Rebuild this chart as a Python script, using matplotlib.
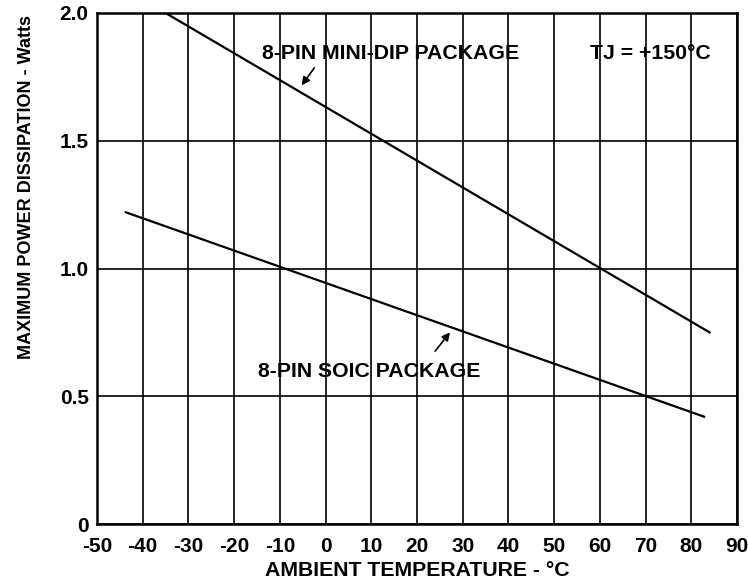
import numpy as np
import matplotlib
matplotlib.use("Agg")
import matplotlib.pyplot as plt

plt.rcParams['font.family'] = ['Liberation Sans', 'DejaVu Sans']
plt.rcParams['font.weight'] = 'bold'

# 8-pin mini-dip package derating line (endpoints)
dip_t = [-35, 84]
dip_p = [2.0, 0.75]
# 8-pin soic package derating line
soic_t = [-43.7, 82.8]
soic_p = [1.22, 0.42]

xticks = list(range(-50, 91, 10))
yticks = [0, 0.5, 1.0, 1.5, 2.0]
ylabels = ["0", "0.5", "1.0", "1.5", "2.0"]

fig = plt.figure(figsize=(7.48, 5.84), dpi=100)
ax = fig.add_axes([97/748, 1 - 524/584, 640/748, 511/584])

ax.set_xlim(-50, 90)
ax.set_ylim(0, 2.0)
ax.set_xticks(xticks)
ax.set_xticklabels([str(t) for t in xticks])
ax.set_yticks(yticks)
ax.set_yticklabels(ylabels)
ax.tick_params(length=0, labelsize=15)
ax.tick_params(axis='x', pad=9)
ax.tick_params(axis='y', pad=6)
for s in ax.spines.values():
    s.set_linewidth(1.8)

ax.grid(True, color='black', linewidth=1.2)
ax.set_axisbelow(True)

ax.plot(dip_t, dip_p, color='black', linewidth=1.6)
ax.plot(soic_t, soic_p, color='black', linewidth=1.6)

fs = 15.3
ax.text(14.3, 1.843, "8-PIN MINI-DIP PACKAGE", ha='center', va='center',
        fontsize=fs, fontweight='bold')
ax.annotate("", xy=(-5.6, 1.708), xytext=(-2.1, 1.794),
            arrowprops=dict(arrowstyle='-|>', color='black', lw=1.2,
                            mutation_scale=12))
ax.text(71.0, 1.843, "TJ = +150°C", ha='center', va='center',
        fontsize=fs, fontweight='bold')
ax.text(9.5, 0.595, "8-PIN SOIC PACKAGE", ha='center', va='center',
        fontsize=fs, fontweight='bold')
ax.annotate("", xy=(27.6, 0.759), xytext=(23.6, 0.668),
            arrowprops=dict(arrowstyle='-|>', color='black', lw=1.2,
                            mutation_scale=12))

ax.set_xlabel("AMBIENT TEMPERATURE - °C", fontsize=fs, fontweight='bold')
ax.xaxis.set_label_coords(0.5, -0.072)
ax.set_ylabel("MAXIMUM POWER DISSIPATION - Watts", fontsize=13, fontweight='bold')
ax.yaxis.set_label_coords(-62/640, 0.66)

fig.savefig("out.png", dpi=100)
